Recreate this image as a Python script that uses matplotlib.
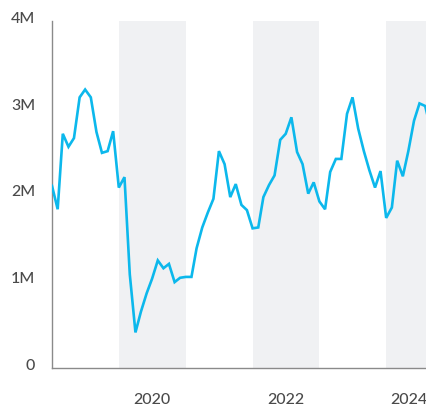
import matplotlib

matplotlib.use("Agg")
import matplotlib.pyplot as plt
import matplotlib.transforms as mtransforms
import pandas as pd

# monthly values, Jan 2019 - Sep 2024 (millions)
values_2019 = [2.10, 1.83, 2.70, 2.55, 2.65, 3.12, 3.21, 3.12, 2.72, 2.48, 2.50, 2.73]
values_2020 = [2.08, 2.20, 1.08, 0.41, 0.65, 0.86, 1.03, 1.24, 1.15, 1.20, 0.99, 1.04]
values_2021 = [1.05, 1.05, 1.38, 1.62, 1.79, 1.95, 2.50, 2.35, 1.97, 2.12, 1.88, 1.82]
values_2022 = [1.61, 1.62, 1.97, 2.11, 2.22, 2.63, 2.70, 2.89, 2.49, 2.35, 2.01, 2.14]
values_2023 = [1.92, 1.83, 2.26, 2.41, 2.41, 2.93, 3.12, 2.76, 2.50, 2.28, 2.08, 2.27]
values_2024 = [1.73, 1.85, 2.39, 2.21, 2.50, 2.85, 3.05, 3.02, 2.75]

values = values_2019 + values_2020 + values_2021 + values_2022 + values_2023 + values_2024
dates = pd.date_range("2019-01-01", periods=len(values), freq="MS")

shaded_years = [2020, 2022, 2024]
tick_years = [2020, 2022, 2024]
y_ticks = [0, 1, 2, 3, 4]
y_labels = ["0", "1M", "2M", "3M", "4M"]

LINE = "#0cb8ec"
BAND = "#f0f1f3"
TEXT = "#4a4a4a"
SPINE = "#8a8a8a"
FONT = ["Lato", "DejaVu Sans"]

fig = plt.figure(figsize=(4.27, 4.06), dpi=100)
ax = fig.add_axes([52 / 427, 37 / 406, 1 - 52 / 427, 347 / 406])

for yr in shaded_years:
    ax.axvspan(pd.Timestamp(f"{yr}-01-01"), pd.Timestamp(f"{yr + 1}-01-01"),
               color=BAND, lw=0, zorder=0)

ax.plot(dates, [v * 1e6 for v in values], color=LINE, lw=1.9,
        solid_joinstyle="miter", zorder=3)

ax.set_xlim(pd.Timestamp("2019-01-01"), pd.Timestamp("2024-08-11"))
ax.set_ylim(0, 4e6)

ax.set_yticks([t * 1e6 for t in y_ticks])
ax.set_yticklabels(y_labels)
ax.set_xticks([pd.Timestamp(f"{y}-07-01") for y in tick_years])
ax.set_xticklabels([str(y) for y in tick_years])

ax.tick_params(axis="both", length=0, labelsize=11.5, labelcolor=TEXT)
ax.tick_params(axis="y", pad=12)
ax.tick_params(axis="x", pad=17)

# lift the y labels a little, as in the reference
lift = mtransforms.ScaledTranslation(0, 4.5 / 100, fig.dpi_scale_trans)
for lab in ax.get_yticklabels():
    lab.set_transform(lab.get_transform() + lift)

# last year label is pulled left so it stays inside the figure
shift = mtransforms.ScaledTranslation(-11 / 100, 0, fig.dpi_scale_trans)
last = ax.get_xticklabels()[-1]
last.set_transform(last.get_transform() + shift)

for s in ["top", "right"]:
    ax.spines[s].set_visible(False)
for s in ["left", "bottom"]:
    ax.spines[s].set_color(SPINE)
    ax.spines[s].set_linewidth(1.0)

for lab in ax.get_xticklabels() + ax.get_yticklabels():
    lab.set_family(FONT)
    lab.set_fontweight("medium")

fig.savefig("out.png", dpi=100)
